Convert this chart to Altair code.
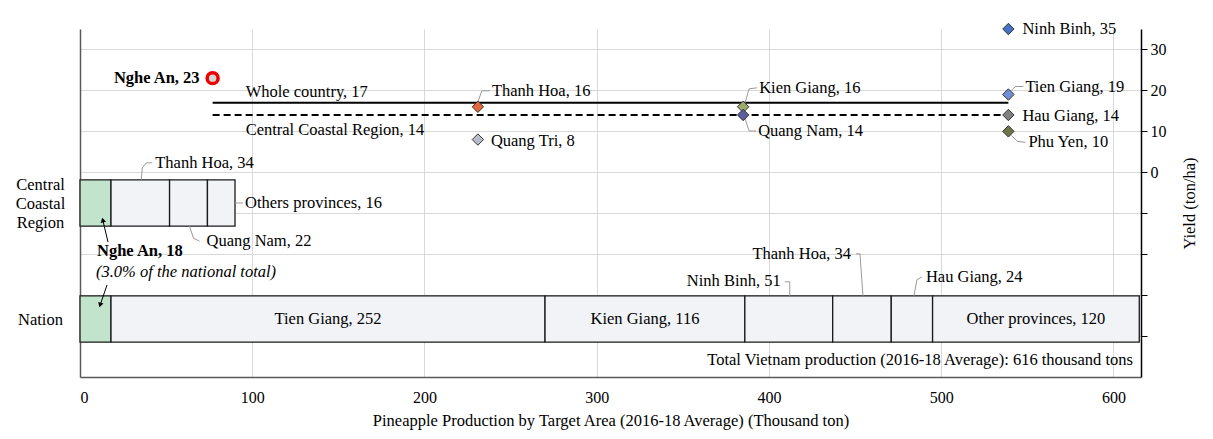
import altair as alt
import numpy as np
import pandas as pd

# ---------------- data ----------------
nation_names = ["Nghe An", "Tien Giang", "Kien Giang", "Ninh Binh", "Thanh Hoa", "Hau Giang", "Other provinces"]
nation_prod = [18, 252, 116, 51, 34, 24, 120]
ccr_names = ["Nghe An", "Thanh Hoa", "Quang Nam", "Others provinces"]
ccr_prod = [18, 34, 22, 16]
total_prod = 616
nghe_an_share_pct = 3.0

yield_names = ["Nghe An", "Thanh Hoa", "Quang Tri", "Kien Giang", "Quang Nam",
               "Ninh Binh", "Tien Giang", "Hau Giang", "Phu Yen"]
yield_vals = [23, 16, 8, 16, 14, 35, 19, 14, 10]
yield_groups = [0, 1, 1, 2, 2, 3, 3, 3, 3]
whole_country_yield = 17
ccr_yield = 14

x_ticks = [0, 100, 200, 300, 400, 500, 600]
yield_ticks = [-40, -30, -20, -10, 0, 10, 20, 30]

# ---------------- layout / style ----------------
FONT = "Liberation Serif"
FS = 16.5      # annotation text
FS_AX = 16     # tick labels
W, H = 1061, 348
X_DOMAIN = [0, total_prod]
Y_DOMAIN = [-50, 35]
ROW_DOMAIN = [0, 6]
NATION_ROW, CCR_ROW, HALF = 1, 3, 0.4
PX_X = W / (X_DOMAIN[1] - X_DOMAIN[0])
PX_Y = H / (Y_DOMAIN[1] - Y_DOMAIN[0])
PX_R = H / (ROW_DOMAIN[1] - ROW_DOMAIN[0])
LINE_H = 19
GRID = "#d9d9d9"
LEADER = "#9a9a9a"

point_colors = {"Thanh Hoa": "#e2673e", "Quang Tri": "#b7bccb", "Kien Giang": "#9aab6c",
                "Quang Nam": "#5b5e9c", "Ninh Binh": "#4472c4", "Tien Giang": "#6f8fd8",
                "Hau Giang": "#808080", "Phu Yen": "#6e7446"}


def col_x(c):
    return total_prod * (2 * c + 1) / 8


def ox(x, dx):
    return x + dx / PX_X


def oy(y, dy, per):
    return y - dy / per


x_axis = alt.Axis(values=x_ticks, grid=True, gridColor=GRID, ticks=False, domainColor="#595959",
                  domainWidth=1.5, labelFont=FONT, labelFontSize=FS_AX, labelColor="#000",
                  labelPadding=12, titleFont=FONT, titleFontSize=FS, titleFontWeight="normal",
                  titleColor="#000", titlePadding=7)
X_TITLE = "Pineapple Production by Target Area (2016-18 Average) (Thousand ton)"


def X(field):
    return alt.X(f"{field}:Q", scale=alt.Scale(domain=X_DOMAIN, nice=False, zero=False),
                 axis=x_axis, title=X_TITLE)


yield_axis = alt.Axis(orient="right", values=yield_ticks,
                      labelExpr="datum.value >= 0 ? datum.label : ''",
                      grid=True, gridColor=GRID, domainColor="#000", domainWidth=1.5,
                      tickColor="#000", tickSize=6, labelPadding=3, labelFont=FONT,
                      labelFontSize=FS_AX, labelColor="#000", titleFont=FONT, titleFontSize=FS,
                      titleFontWeight="normal", titleColor="#000", titleAngle=270, titlePadding=31)


def Yy(field):
    return alt.Y(f"{field}:Q", scale=alt.Scale(domain=Y_DOMAIN, nice=False, zero=False),
                 axis=yield_axis, title="Yield (ton/ha)")


# the three-line label is anchored one line above the bar centre so the block is centred on it
ccr_label_pos = CCR_ROW + LINE_H / PX_R
row_axis = alt.Axis(orient="left", values=[NATION_ROW, ccr_label_pos],
                    labelExpr=f"datum.value > {(NATION_ROW + CCR_ROW) / 2} ? ['Central', 'Coastal', 'Region'] : 'Nation'",
                    grid=False, ticks=False, tickSize=0, domainColor="#595959", domainWidth=1.5,
                    labelFont=FONT, labelFontSize=FS, labelColor="#000", labelAlign="center",
                    labelLineHeight=LINE_H, labelPadding=40)


def Yr(field):
    return alt.Y(f"{field}:Q", scale=alt.Scale(domain=ROW_DOMAIN, nice=False, zero=False),
                 axis=row_axis, title=None)


def text_layer(df, yenc, align, weight="normal", style="normal"):
    return alt.Chart(df).mark_text(align=align, baseline="middle", font=FONT, fontSize=FS,
                                   fontWeight=weight, fontStyle=style, color="#000").encode(
        x=X("tx"), y=yenc, text="text:N")


# ---------------- production bars (row scale) ----------------
def segs(names, vals, row):
    v = np.array(vals, float)
    ends = np.cumsum(v)
    starts = ends - v
    return pd.DataFrame({"name": names, "prod": v, "x0": starts, "x1": ends,
                         "xmid": (starts + ends) / 2, "y0": row - HALF, "y1": row + HALF,
                         "row": row,
                         "fill": ["#c2e4cd" if n == "Nghe An" else "#f1f3f7" for n in names]})


nation = segs(nation_names, nation_prod, NATION_ROW)
ccr = segs(ccr_names, ccr_prod, CCR_ROW)
bars = pd.concat([nation, ccr], ignore_index=True)

bar_layer = alt.Chart(bars).mark_rect(stroke="#1a1a1a", strokeWidth=1.3).encode(
    x=X("x0"), x2="x1", y=Yr("y0"), y2="y1", fill=alt.Fill("fill:N", scale=None))

inside = nation[nation["name"].isin(["Tien Giang", "Kien Giang", "Other provinces"])].copy()
inside["text"] = inside["name"] + ", " + inside["prod"].astype(int).astype(str)
inside["tx"] = inside["xmid"]
inside_layer = text_layer(inside, Yr("row"), "center")

# outside bar labels: (table, name, anchor-x field, anchor row, label dx, dy, align, leader px offsets)
bar_notes = [
    (nation, "Ninh Binh", "xmid", NATION_ROW + HALF, -8, -15, "right", [(1, 0), (1, -14), (-4, -14)]),
    (nation, "Thanh Hoa", "xmid", NATION_ROW + HALF, -11, -42, "right", [(1, 0), (-2, -42), (-6, -42)]),
    (nation, "Hau Giang", "xmid", NATION_ROW + HALF, 14, -19, "left", [(2, 0), (5, -16), (10, -19)]),
    (ccr, "Thanh Hoa", "xmid", CCR_ROW + HALF, 15, -17, "left", [(1, 0), (2, -12), (6, -17), (12, -17)]),
    (ccr, "Others provinces", "x1", CCR_ROW, 10, 0, "left", [(0, 0), (8, 0)]),
    (ccr, "Quang Nam", "xmid", CCR_ROW - HALF, 18, 15, "left", [(1, 0), (5, 12), (11, 15)]),
]
bl_rows, bleader_rows = [], []
for i, (tbl, nm, fx, arow, dx, dy, al, path) in enumerate(bar_notes):
    r = tbl[tbl["name"] == nm].iloc[0]
    ax = float(r[fx])
    bl_rows.append({"text": f"{nm}, {int(r['prod'])}", "tx": ox(ax, dx),
                    "ry": oy(arow, dy, PX_R), "align": al})
    for k, (px, py) in enumerate(path):
        bleader_rows.append({"id": i, "ord": k, "lx": ox(ax, px), "ly": oy(arow, py, PX_R)})
bl = pd.DataFrame(bl_rows)
bleaders = pd.DataFrame(bleader_rows)

bar_leader_layer = alt.Chart(bleaders).mark_line(color=LEADER, strokeWidth=1).encode(
    x=X("lx"), y=Yr("ly"), detail="id:N", order="ord:Q")
bl_left = text_layer(bl[bl["align"] == "left"], Yr("ry"), "left")
bl_right = text_layer(bl[bl["align"] == "right"], Yr("ry"), "right")

# Nghe An production note with arrows
na = nation[nation["name"] == "Nghe An"].iloc[0]
na_x, na_row = float(na["xmid"]), (NATION_ROW + CCR_ROW) / 2
na_bold = pd.DataFrame([{"text": f"Nghe An, {int(na['prod'])}", "tx": ox(na_x, 1.5),
                         "ry": oy(na_row, -10, PX_R)}])
na_ital = pd.DataFrame([{"text": f"({nghe_an_share_pct:.1f}% of the national total)",
                         "tx": ox(na_x, 0.5), "ry": oy(na_row, 11, PX_R)}])
arrow_paths = [[(12.5, -19), (7.5, -40)], [(11.5, 24), (5, 43)]]
arrow_rows, head_rows = [], []
for i, path in enumerate(arrow_paths):
    for k, (px, py) in enumerate(path):
        arrow_rows.append({"id": i, "ord": k, "lx": ox(na_x, px), "ly": oy(na_row, py, PX_R)})
heads = [((7.3, -41), 347), ((4.6, 44), 197)]
for (px, py), ang in heads:
    head_rows.append({"lx": ox(na_x, px), "ly": oy(na_row, py, PX_R), "ang": ang})
arrows = pd.DataFrame(arrow_rows)
arrow_heads = pd.DataFrame(head_rows)
arrow_layer = alt.Chart(arrows).mark_line(color="#000", strokeWidth=1).encode(
    x=X("lx"), y=Yr("ly"), detail="id:N", order="ord:Q")
head_layer = alt.Chart(arrow_heads).mark_point(shape="triangle-up", filled=True, size=30,
                                               color="#000", opacity=1).encode(
    x=X("lx"), y=Yr("ly"), angle=alt.Angle("ang:Q", scale=None))
na_bold_layer = text_layer(na_bold, Yr("ry"), "left", weight="bold")
na_ital_layer = text_layer(na_ital, Yr("ry"), "left", style="italic")

total_df = pd.DataFrame([{"text": f"Total Vietnam production (2016-18 Average): {total_prod} thousand tons",
                          "tx": ox(total_prod, -8), "ry": oy(ROW_DOMAIN[0], -17, PX_R)}])
total_layer = text_layer(total_df, Yr("ry"), "right")

row_group = alt.layer(bar_layer, inside_layer, bar_leader_layer, bl_left, bl_right,
                      arrow_layer, head_layer, na_bold_layer, na_ital_layer, total_layer)

# ---------------- yields (right axis) ----------------
ydf = pd.DataFrame({"name": yield_names, "yield": yield_vals, "grp": yield_groups})
ydf["x"] = [col_x(g) for g in yield_groups]
ydf["color"] = ydf["name"].map(point_colors)

ref = pd.DataFrame([
    {"text": f"Whole country, {whole_country_yield}", "yield": whole_country_yield,
     "x0": col_x(0), "x1": col_x(3), "dy": -11},
    {"text": f"Central Coastal Region, {ccr_yield}", "yield": ccr_yield,
     "x0": col_x(0), "x1": col_x(3), "dy": 15},
])
ref["tx"] = ref["x0"].apply(lambda v: ox(v, 33))
ref["ty"] = [oy(r["yield"], r["dy"], PX_Y) for _, r in ref.iterrows()]

solid_rule = alt.Chart(ref.iloc[[0]]).mark_rule(color="#000", strokeWidth=2).encode(
    x=X("x0"), x2="x1", y=Yy("yield"))
dash_rule = alt.Chart(ref.iloc[[1]]).mark_rule(color="#000", strokeWidth=2,
                                               strokeDash=[7, 4]).encode(
    x=X("x0"), x2="x1", y=Yy("yield"))
ref_text = text_layer(ref, Yy("ty"), "left")

# label offsets (px) and leader paths (px) relative to each point
pt_notes = {
    "Nghe An": (-13, 0, "right", []),
    "Thanh Hoa": (14, -16, "left", [(0, -5), (4, -16), (12, -16)]),
    "Quang Tri": (13, 1, "left", []),
    "Kien Giang": (16, -19, "left", [(2, -4), (6, -18), (14, -19)]),
    "Quang Nam": (15, 16, "left", [(2, 4), (6, 16), (13, 16)]),
    "Ninh Binh": (14, 0, "left", []),
    "Tien Giang": (17, -8, "left", [(3, -4), (7, -8), (15, -8)]),
    "Hau Giang": (14, 1, "left", []),
    "Phu Yen": (20, 11, "left", [(3, 4), (9, 10), (17, 11)]),
}
pl_rows, pleader_rows = [], []
for i, r in ydf.iterrows():
    dx, dy, al, path = pt_notes[r["name"]]
    pl_rows.append({"text": f"{r['name']}, {r['yield']}", "tx": ox(r["x"], dx),
                    "ty": oy(r["yield"], dy, PX_Y), "align": al, "name": r["name"]})
    for k, (px, py) in enumerate(path):
        pleader_rows.append({"id": i, "ord": k, "lx": ox(r["x"], px), "ly": oy(r["yield"], py, PX_Y)})
pl = pd.DataFrame(pl_rows)
pleaders = pd.DataFrame(pleader_rows)

pt_leader_layer = alt.Chart(pleaders).mark_line(color=LEADER, strokeWidth=1).encode(
    x=X("lx"), y=Yy("ly"), detail="id:N", order="ord:Q")
diamonds = alt.Chart(ydf[ydf["name"] != "Nghe An"]).mark_point(
    shape="diamond", filled=True, size=130, stroke="#333333", strokeWidth=1, opacity=1).encode(
    x=X("x"), y=Yy("yield"), fill=alt.Fill("color:N", scale=None))
nghe_pt = alt.Chart(ydf[ydf["name"] == "Nghe An"]).mark_point(
    shape="circle", filled=True, size=120, fill="#d6d6d6", stroke="#ee0000", strokeWidth=3.5,
    opacity=1).encode(x=X("x"), y=Yy("yield"))
pl_left = text_layer(pl[pl["align"] == "left"], Yy("ty"), "left")
pl_right = text_layer(pl[pl["align"] == "right"], Yy("ty"), "right", weight="bold")

yield_group = alt.layer(solid_rule, dash_rule, ref_text, pt_leader_layer, diamonds, nghe_pt,
                        pl_left, pl_right)

chart = alt.layer(row_group, yield_group).resolve_scale(y="independent").properties(
    width=W, height=H,
    autosize=alt.AutoSizeParams(type="none"),
    padding={"left": 72, "top": 21, "right": 64, "bottom": 54},
).configure_view(strokeWidth=0)

chart.save("out.html", embed_options={"renderer": "svg", "actions": False})
